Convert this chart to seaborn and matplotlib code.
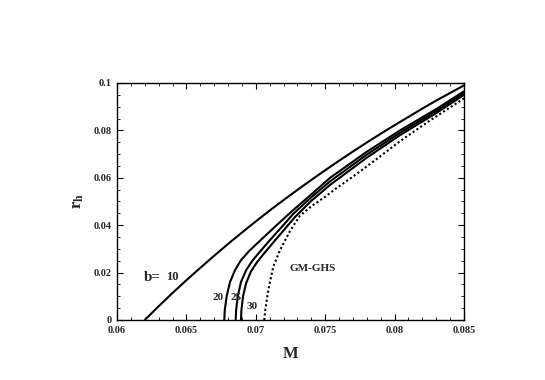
import matplotlib
matplotlib.use("Agg")
import matplotlib.pyplot as plt
import seaborn as sns
from matplotlib.ticker import MultipleLocator, FuncFormatter

sns.set_theme(style="ticks")
plt.rcParams['font.family'] = ['Liberation Serif', 'DejaVu Serif']
plt.rcParams['mathtext.fontset'] = 'custom'
plt.rcParams['mathtext.rm'] = 'Liberation Serif:bold'
plt.rcParams['mathtext.bf'] = 'Liberation Serif:bold'
plt.rcParams['mathtext.it'] = 'Liberation Serif:bold'

# b = 10
m_b10 = [0.0620, 0.0630, 0.0640, 0.0650, 0.0660, 0.0670, 0.0680, 0.0690, 0.0700,
         0.0710, 0.0720, 0.0730, 0.0740, 0.0750, 0.0760, 0.0770, 0.0780, 0.0790,
         0.0800, 0.0810, 0.0820, 0.0830, 0.0840, 0.0850]
rh_b10 = [0.0, 0.0058, 0.0114, 0.0168, 0.0220, 0.0271, 0.0321, 0.0369, 0.0416,
          0.0462, 0.0506, 0.0549, 0.0591, 0.0632, 0.0672, 0.0711, 0.0749, 0.0786,
          0.0822, 0.0857, 0.0892, 0.0926, 0.0958, 0.0990]

# b = 20
m_b20 = [0.06773, 0.06776, 0.06790, 0.06814, 0.06850, 0.06890, 0.06950, 0.07040,
         0.07150, 0.07270, 0.07400, 0.07535, 0.07800, 0.08039, 0.08300, 0.08500]
rh_b20 = [0.0, 0.0040, 0.0100, 0.0160, 0.0210, 0.0250, 0.0290, 0.0340,
          0.0400, 0.0464, 0.0530, 0.0600, 0.0710, 0.0800, 0.0890, 0.0965]

# b = 25
m_b25 = [0.06855, 0.06858, 0.06870, 0.06893, 0.06930, 0.06975, 0.07035, 0.07100,
         0.07180, 0.07270, 0.07400, 0.07535, 0.07800, 0.08039, 0.08300, 0.08500]
rh_b25 = [0.0, 0.0040, 0.0100, 0.0160, 0.0210, 0.0250, 0.0292, 0.0336,
          0.0388, 0.0448, 0.0518, 0.0585, 0.0698, 0.0790, 0.0882, 0.0958]

# b = 30
m_b30 = [0.06893, 0.06896, 0.06908, 0.06930, 0.06965, 0.07010, 0.07068, 0.07130,
         0.07200, 0.07280, 0.07400, 0.07535, 0.07800, 0.08039, 0.08300, 0.08500]
rh_b30 = [0.0, 0.0040, 0.0100, 0.0155, 0.0205, 0.0245, 0.0287, 0.0330,
          0.0378, 0.0433, 0.0503, 0.0570, 0.0685, 0.0780, 0.0873, 0.0950]

# GM-GHS (dotted)
m_ghs = [0.07061, 0.07068, 0.07090, 0.07126, 0.07174, 0.07246, 0.07318, 0.07400,
         0.07500, 0.07580, 0.07700, 0.07850, 0.08040, 0.08250, 0.08500]
rh_ghs = [0.0, 0.0042, 0.0127, 0.0225, 0.0295, 0.0375, 0.0440, 0.0480,
          0.0520, 0.0556, 0.0605, 0.0670, 0.0755, 0.0840, 0.0935]

fig = plt.figure(figsize=(5.45, 3.8), dpi=100)
ax = fig.add_axes([0.2147, 0.1579, 0.8514 - 0.2147, 0.7816 - 0.1579])

for mm, rr in [(m_b10, rh_b10), (m_b20, rh_b20), (m_b25, rh_b25), (m_b30, rh_b30)]:
    sns.lineplot(x=mm, y=rr, ax=ax, sort=False, estimator=None, color='black', linewidth=1.5)
sns.lineplot(x=m_ghs, y=rh_ghs, ax=ax, sort=False, estimator=None, color='black',
             linewidth=1.5, linestyle=(0, (1, 1.2)))

ax.set_xlim(0.06, 0.085)
ax.set_ylim(0, 0.1)
ax.xaxis.set_major_locator(MultipleLocator(0.005))
ax.xaxis.set_minor_locator(MultipleLocator(0.001))
ax.yaxis.set_major_locator(MultipleLocator(0.02))
ax.yaxis.set_minor_locator(MultipleLocator(0.005))
fmt = FuncFormatter(lambda v, p: ('%g' % round(v, 6)))
ax.xaxis.set_major_formatter(fmt)
ax.yaxis.set_major_formatter(fmt)
ax.tick_params(which='both', direction='in', top=True, right=True, color='black')
ax.tick_params(which='major', length=4, width=0.8, labelsize=7.5, pad=4)
ax.tick_params(which='minor', length=2, width=0.6)
for lab in ax.get_xticklabels() + ax.get_yticklabels():
    lab.set_fontweight('bold')
for s in ax.spines.values():
    s.set_visible(True)
    s.set_color('black')
    s.set_linewidth(1.0)

ax.set_xlabel('M', fontsize=12, fontweight='bold', labelpad=8)
ax.set_ylabel(r'$\mathrm{r_h}$', fontsize=12, labelpad=5)

ax.text(0.06252, 0.0181, 'b=', fontsize=11, fontweight='bold', ha='center', va='center')
ax.text(0.06396, 0.0181, '10', fontsize=9, fontweight='bold', ha='center', va='center')
ax.text(0.06728, 0.0097, '20', fontsize=8, fontweight='bold', ha='center', va='center')
ax.text(0.06857, 0.0093, '25', fontsize=8, fontweight='bold', ha='center', va='center')
ax.text(0.06976, 0.0059, '30', fontsize=8, fontweight='bold', ha='center', va='center')
ax.text(0.07408, 0.0219, 'GM-GHS', fontsize=8, fontweight='bold', ha='center', va='center')

fig.savefig('out.png', dpi=100, facecolor='white')
